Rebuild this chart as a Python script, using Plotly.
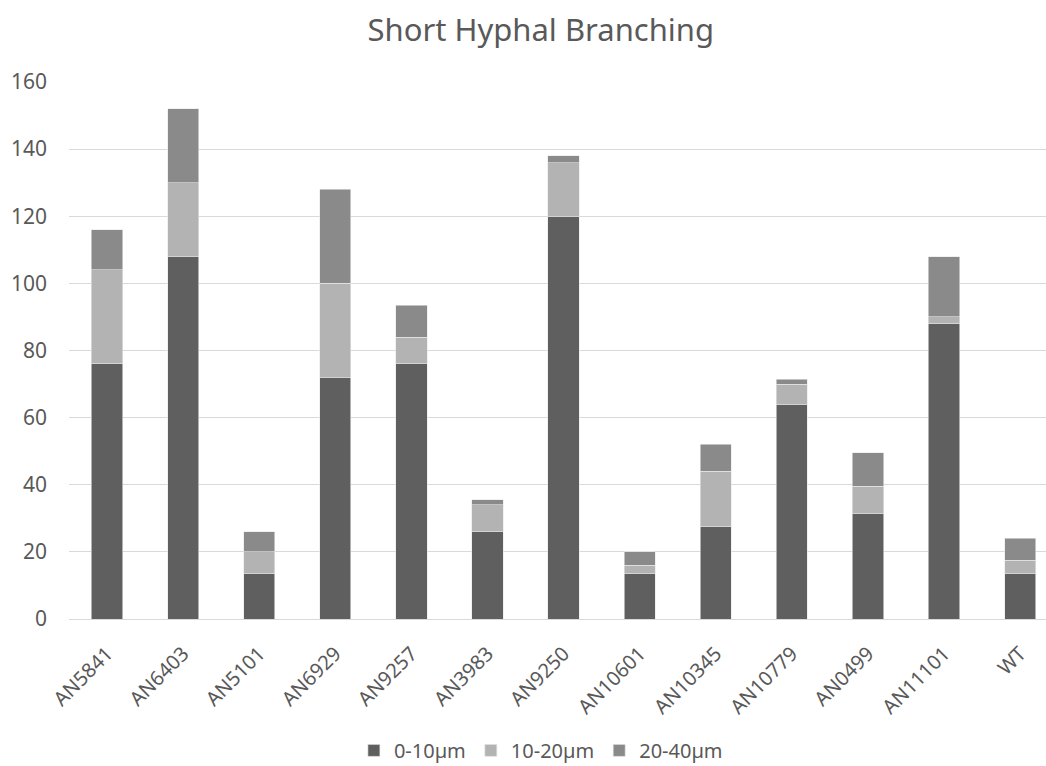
import plotly.graph_objects as go

categories = ["AN5841", "AN6403", "AN5101", "AN6929", "AN9257", "AN3983", "AN9250",
              "AN10601", "AN10345", "AN10779", "AN0499", "AN11101", "WT"]
short_0_10 = [76, 108, 13.5, 72, 76, 26, 120, 13.5, 27.5, 64, 31.5, 88, 13.5]
short_10_20 = [28, 22, 6.5, 28, 8, 8, 16, 2.5, 16.5, 6, 8, 2, 4]
short_20_40 = [12, 22, 6, 28, 9.5, 1.5, 2, 4, 8, 1.5, 10, 18, 6.5]

series = [
    ("0-10µm", short_0_10, "#5f5f5f"),
    ("10-20µm", short_10_20, "#b3b3b3"),
    ("20-40µm", short_20_40, "#8a8a8a"),
]

text_color = "#595959"
font_family = "Noto Sans, Open Sans, sans-serif"

fig = go.Figure()
for name, values, color in series:
    fig.add_trace(go.Bar(
        x=categories, y=values, name=name,
        marker=dict(color=color, line=dict(color="#e8e8e8", width=0.6)),
        width=0.41,
    ))

fig.update_layout(
    barmode="stack",
    width=1046, height=766,
    margin=dict(l=69, r=0, t=82, b=147, autoexpand=False),
    paper_bgcolor="white", plot_bgcolor="white",
    font=dict(family=font_family, color=text_color),
    title=dict(text="Short Hyphal Branching", x=0.517, xanchor="center",
               y=0.961, yanchor="middle",
               font=dict(size=31, color=text_color, family=font_family)),
    showlegend=True,
    legend=dict(orientation="h", x=0.483, xanchor="center", y=-0.281, yanchor="bottom",
                font=dict(size=20, color=text_color), traceorder="normal",
                itemwidth=30, borderwidth=0),
    xaxis=dict(range=[-0.5, 12.34], tickangle=-45, tickfont=dict(size=20, color=text_color),
               showgrid=False, showline=True, linecolor="#d9d9d9", linewidth=1,
               ticks="", fixedrange=True, ticklabelstandoff=14, automargin=False),
    yaxis=dict(range=[0, 160], dtick=20, tickfont=dict(size=21, color=text_color),
               showgrid=True, gridcolor="#d9d9d9", gridwidth=1, zeroline=False,
               showline=False, ticks="", ticklabelstandoff=21, automargin=False),
)

fig.write_html("out.html")
